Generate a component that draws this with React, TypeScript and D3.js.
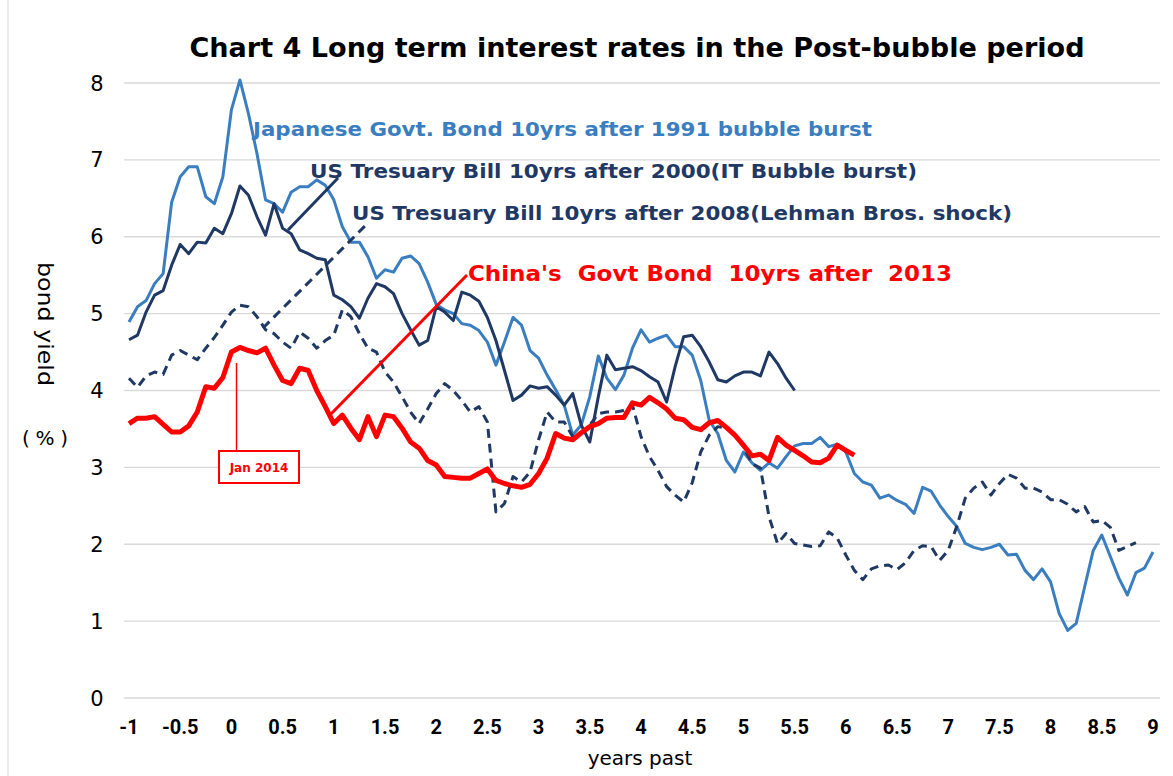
import React from "react";
import * as d3 from "d3";

const W = 1173;
const H = 776;

const TITLE = "Chart 4 Long term interest rates in the Post-bubble period";
const Y_TICKS = [0, 1, 2, 3, 4, 5, 6, 7, 8];
const X_TICKS = [-1, -0.5, 0, 0.5, 1, 1.5, 2, 2.5, 3, 3.5, 4, 4.5, 5, 5.5, 6, 6.5, 7, 7.5, 8, 8.5, 9];

// monthly values, first month at x = -1 (years past)
const jgb1991 = [
  4.89, 5.09, 5.17, 5.39, 5.52, 6.45, 6.78, 6.91, 6.91, 6.52, 6.43, 6.78,
  7.65, 8.04, 7.6, 7.08, 6.48, 6.43, 6.32, 6.58, 6.65, 6.65, 6.74, 6.67,
  6.48, 6.13, 5.93, 5.93, 5.74, 5.46, 5.57, 5.54, 5.72, 5.75, 5.65, 5.41,
  5.12, 5.05, 5.0, 4.87, 4.85, 4.78, 4.63, 4.33, 4.63, 4.95, 4.85, 4.52,
  4.42, 4.2, 4.01, 3.81, 3.42, 3.55, 3.92, 4.45, 4.16, 4.01, 4.2, 4.55,
  4.79, 4.63, 4.68, 4.72, 4.57, 4.57, 4.46, 4.13, 3.61, 3.44, 3.09, 2.94,
  3.2, 3.06, 2.96, 3.06, 2.99, 3.14, 3.28, 3.31, 3.31, 3.39, 3.27, 3.3,
  3.2, 2.92, 2.81, 2.77, 2.6, 2.64, 2.57, 2.52, 2.4, 2.74, 2.69, 2.51,
  2.36, 2.23, 2.01, 1.96, 1.93, 1.96, 2.0, 1.86, 1.87, 1.66, 1.54, 1.68,
  1.51, 1.1, 0.88, 0.97, 1.45, 1.92, 2.12, 1.84, 1.56, 1.34, 1.63, 1.69,
  1.9,
];

const us2000 = [
  4.66, 4.72, 5.02, 5.24, 5.3, 5.63, 5.9, 5.78, 5.93, 5.92, 6.11, 6.04,
  6.3, 6.66, 6.54, 6.26, 6.02, 6.43, 6.11, 6.04, 5.83, 5.78, 5.72, 5.7,
  5.24, 5.18, 5.09, 4.94, 5.2, 5.39, 5.35, 5.26, 5.0, 4.79, 4.59, 4.65,
  5.09, 5.02, 4.91, 5.28, 5.24, 5.16, 4.95, 4.65, 4.26, 3.87, 3.94, 4.06,
  4.03, 4.05, 3.94, 3.81, 3.96, 3.55, 3.33, 3.92, 4.46, 4.27, 4.29, 4.31,
  4.26, 4.18, 4.11, 3.85, 4.31, 4.7, 4.72, 4.57, 4.37, 4.14, 4.11, 4.19,
  4.24, 4.24, 4.19, 4.5, 4.35, 4.16, 4.0,
];

const us2008 = [
  4.16, 4.04, 4.19, 4.24, 4.21, 4.46, 4.52, 4.46, 4.4, 4.55, 4.69, 4.85,
  5.02, 5.11, 5.09, 4.96, 4.79, 4.74, 4.63, 4.55, 4.76, 4.68, 4.55, 4.65,
  4.72, 5.05, 4.96, 4.74, 4.55, 4.5, 4.24, 4.11, 3.92, 3.72, 3.57, 3.76,
  3.96, 4.09, 4.0, 3.87, 3.72, 3.79, 3.59, 2.42, 2.53, 2.88, 2.81, 2.94,
  3.36, 3.72, 3.59, 3.59, 3.4, 3.45, 3.55, 3.7, 3.72, 3.72, 3.74, 3.81,
  3.4, 3.14, 2.96, 2.75, 2.64, 2.55, 2.8, 3.2, 3.42, 3.53, 3.51, 3.42,
  3.27, 3.05, 2.99, 2.36, 2.01, 2.14, 2.01, 1.99, 1.97, 1.98, 2.16, 2.08,
  1.86, 1.66, 1.54, 1.68, 1.72, 1.73, 1.67, 1.76, 1.92, 1.98, 1.97, 1.79,
  1.92, 2.23, 2.6, 2.73, 2.81, 2.64, 2.79, 2.91, 2.86, 2.73, 2.73, 2.68,
  2.58, 2.58, 2.52, 2.42, 2.49, 2.29, 2.31, 2.22, 1.92, 1.97, 2.02,
];

const china2013 = [
  3.57, 3.64, 3.64, 3.66, 3.56, 3.46, 3.46, 3.54, 3.72, 4.05, 4.03, 4.17,
  4.5, 4.56, 4.52, 4.49, 4.55, 4.33, 4.13, 4.09, 4.29, 4.26, 4.0, 3.79,
  3.57, 3.68, 3.51, 3.36, 3.66, 3.4, 3.68, 3.66, 3.51, 3.33, 3.25, 3.09,
  3.03, 2.88, 2.87, 2.86, 2.86, 2.92, 2.98, 2.83, 2.79, 2.76, 2.74, 2.78,
  2.92, 3.12, 3.44, 3.38, 3.36, 3.45, 3.53, 3.57, 3.64, 3.65, 3.65, 3.84,
  3.81, 3.91, 3.84, 3.76, 3.64, 3.62, 3.52, 3.49, 3.58, 3.61, 3.52, 3.42,
  3.29, 3.15, 3.17, 3.09, 3.39, 3.29, 3.22, 3.15, 3.07, 3.06, 3.12, 3.29,
  3.22, 3.16,
];

const LABEL_JGB = "Japanese Govt. Bond 10yrs after 1991 bubble burst";
const LABEL_US2000 = "US Tresuary Bill 10yrs after 2000(IT Bubble burst)";
const LABEL_US2008 = "US Tresuary Bill 10yrs after 2008(Lehman Bros. shock)";
const LABEL_CHINA = "China's  Govt Bond  10yrs after  2013";
const ANNOT = "Jan 2014";
const ANNOT_MONTH = 12.6; // months after x = -1

const BLUE = "#3A7EC0";
const NAVY = "#1F3864";
const RED = "#FF0000";
const FONT = "'DejaVu Sans', Verdana, sans-serif";

export default function App() {
  const x = d3.scaleLinear().domain([-1, 9]).range([129, 1153]);
  const y = d3.scaleLinear().domain([0, 8]).range([698, 83]);
  const monthX = (i: number) => x(-1 + i / 12);
  const line = d3
    .line<number>()
    .x((_, i) => monthX(i))
    .y((d) => y(d));

  const ax = monthX(ANNOT_MONTH);

  return (
    <svg width={W} height={H} style={{ display: "block", position: "absolute", left: 0, top: 0 }}>
      <rect x={0} y={0} width={W} height={H} fill="#fff" />
      <line x1={8} x2={8} y1={0} y2={H} stroke="#D9D9D9" strokeWidth={1} />
      <text
        x={637}
        y={57}
        textAnchor="middle"
        fontFamily={FONT}
        fontWeight="bold"
        fontSize={26}
        textLength={895}
        lengthAdjust="spacingAndGlyphs"
        fill="#000"
      >
        {TITLE}
      </text>

      {Y_TICKS.map((t) => (
        <g key={"y" + t}>
          <line x1={124} x2={1160} y1={y(t)} y2={y(t)} stroke="#D9D9D9" strokeWidth={1.3} />
          <text x={97} y={y(t) + 7.5} textAnchor="middle" fontFamily={FONT} fontSize={21} fill="#000">
            {t}
          </text>
        </g>
      ))}

      {X_TICKS.map((t) => (
        <text
          key={"x" + t}
          x={x(t)}
          y={734}
          textAnchor="middle"
          fontFamily="Roboto, sans-serif"
          fontWeight="bold"
          fontSize={20}
          fill="#000"
        >
          {String(t)}
        </text>
      ))}

      <text x={640} y={765} textAnchor="middle" fontFamily={FONT} fontSize={20} fill="#000">
        years past
      </text>
      <text
        transform="translate(38,324) rotate(90)"
        textAnchor="middle"
        fontFamily={FONT}
        fontSize={22}
        textLength={124}
        lengthAdjust="spacingAndGlyphs"
        fill="#000"
      >
        bond yield
      </text>
      <text x={45} y={445} textAnchor="middle" fontFamily={FONT} fontSize={20} textLength={46} lengthAdjust="spacing" fill="#000">
        (%)
      </text>

      {/* series */}
      <path d={line(jgb1991) || ""} fill="none" stroke={BLUE} strokeWidth={3} strokeLinejoin="round" />
      <path d={line(us2000) || ""} fill="none" stroke={NAVY} strokeWidth={3} strokeLinejoin="round" />
      <path
        d={line(us2008) || ""}
        fill="none"
        stroke={NAVY}
        strokeWidth={3}
        strokeDasharray="9 6"
        strokeLinejoin="round"
      />
      <path d={line(china2013) || ""} fill="none" stroke={RED} strokeWidth={5} strokeLinejoin="round" />

      {/* leader lines */}
      <line x1={288} y1={230} x2={338} y2={178} stroke={NAVY} strokeWidth={3} />
      <line x1={263} y1={328} x2={368} y2={223} stroke={NAVY} strokeWidth={3} strokeDasharray="9 6" />
      <line x1={330} y1={415} x2={467} y2={275} stroke={RED} strokeWidth={3} />

      {/* labels */}
      <text x={253} y={136} fontFamily={FONT} fontWeight="bold" fontSize={20} fill={BLUE} textLength={619} lengthAdjust="spacingAndGlyphs">
        {LABEL_JGB}
      </text>
      <text x={310} y={178} fontFamily={FONT} fontWeight="bold" fontSize={20} fill={NAVY} textLength={607} lengthAdjust="spacingAndGlyphs">
        {LABEL_US2000}
      </text>
      <text x={352} y={220} fontFamily={FONT} fontWeight="bold" fontSize={20} fill={NAVY} textLength={660} lengthAdjust="spacingAndGlyphs">
        {LABEL_US2008}
      </text>
      <text x={468} y={281} fontFamily={FONT} fontWeight="bold" fontSize={22} fill={RED} textLength={484} lengthAdjust="spacingAndGlyphs" style={{ whiteSpace: "pre" }}>
        {LABEL_CHINA}
      </text>

      {/* Jan 2014 annotation */}
      <line x1={ax} x2={ax} y1={363} y2={451} stroke={RED} strokeWidth={1.5} />
      <rect x={219} y={451} width={80} height={32} fill="#fff" stroke={RED} strokeWidth={2} />
      <text x={259} y={472} textAnchor="middle" fontFamily={FONT} fontWeight="bold" fontSize={12} fill={RED}>
        {ANNOT}
      </text>
    </svg>
  );
}
